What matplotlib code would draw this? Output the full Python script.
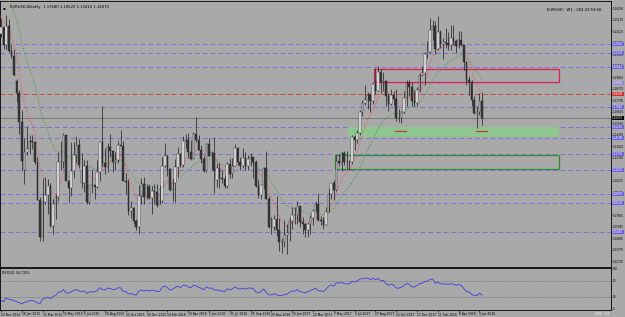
import numpy as np
import pandas as pd
import matplotlib
matplotlib.use("Agg")
import matplotlib.pyplot as plt
from matplotlib.patches import Rectangle
import matplotlib.transforms as mtransforms

# EURUSD weekly, 20 bars before the visible window (only used for MA / RSI warm-up)
pre_close = [1.3605, 1.3524, 1.3430, 1.3427, 1.3412, 1.3398, 1.3240, 1.3130, 1.2951, 1.2962,
             1.2830, 1.2685, 1.2519, 1.2627, 1.2761, 1.2669, 1.2525, 1.2452, 1.2525, 1.2389]

# visible bars, week of 23 Nov 2014 .. week of 10 Jun 2018
opens = [1.2390, 1.2452, 1.2288, 1.2465, 1.2226, 1.2185, 1.1950, 1.1840, 1.1566, 1.1120,
         1.1291, 1.1315, 1.1387, 1.1380, 1.1197, 1.0843, 1.0496, 1.0823, 1.0890, 1.0970,
         1.0600, 1.0808, 1.0872, 1.1198, 1.1200, 1.1448, 1.1014, 1.0955, 1.1113, 1.1263,
         1.1350, 1.1000, 1.1000, 1.1162, 1.0827, 1.0982, 1.0984, 1.0967, 1.1105, 1.1385,
         1.1185, 1.1150, 1.1337, 1.1297, 1.1195, 1.1211, 1.1358, 1.1348, 1.1017, 1.1005,
         1.0740, 1.0770, 1.0647, 1.0593, 1.0882, 1.0989, 1.0866, 1.0963, 1.0862, 1.0922,
         1.0915, 1.0797, 1.0831, 1.1157, 1.1255, 1.1130, 1.0932, 1.1000, 1.1153, 1.1270,
         1.1166, 1.1390, 1.1396, 1.1285, 1.1225, 1.1455, 1.1404, 1.1309, 1.1225, 1.1115,
         1.1365, 1.1250, 1.1277, 1.1030, 1.1137, 1.1051, 1.1037, 1.0976, 1.1175, 1.1086,
         1.1160, 1.1325, 1.1198, 1.1155, 1.1233, 1.1154, 1.1226, 1.1241, 1.1200, 1.0972,
         1.0884, 1.0985, 1.1140, 1.0855, 1.0589, 1.0587, 1.0663, 1.0562, 1.0450, 1.0454,
         1.0517, 1.0530, 1.0643, 1.0703, 1.0698, 1.0783, 1.0641, 1.0617, 1.0560, 1.0620,
         1.0672, 1.0740, 1.0800, 1.0652, 1.0643, 1.0613, 1.0728, 1.0896, 1.0998, 1.0933,
         1.1206, 1.1185, 1.1282, 1.1196, 1.1198, 1.1196, 1.1426, 1.1401, 1.1470, 1.1665,
         1.1750, 1.1774, 1.1822, 1.1760, 1.1924, 1.1860, 1.2035, 1.1941, 1.1950, 1.1815,
         1.1732, 1.1822, 1.1782, 1.1609, 1.1609, 1.1664, 1.1790, 1.1932, 1.1895, 1.1763,
         1.1749, 1.1862, 1.2005, 1.2029, 1.2198, 1.2221, 1.2425, 1.2459, 1.2252, 1.2408,
         1.2296, 1.2317, 1.2307, 1.2289, 1.2350, 1.2323, 1.2280, 1.2330, 1.2288, 1.2130,
         1.1960, 1.1942, 1.1772, 1.1652, 1.1659, 1.1768]
highs = [1.2530, 1.2456, 1.2570, 1.2530, 1.2285, 1.2245, 1.1970, 1.1870, 1.1680, 1.1420,
         1.1535, 1.1450, 1.1448, 1.1390, 1.1243, 1.0870, 1.1043, 1.1052, 1.1035, 1.1000,
         1.0850, 1.0900, 1.1290, 1.1390, 1.1466, 1.1450, 1.1030, 1.1380, 1.1386, 1.1436,
         1.1410, 1.1280, 1.1215, 1.1215, 1.0985, 1.1130, 1.0990, 1.1215, 1.1390, 1.1715,
         1.1330, 1.1370, 1.1460, 1.1300, 1.1285, 1.1390, 1.1495, 1.1390, 1.1095, 1.1040,
         1.0830, 1.0780, 1.0660, 1.0980, 1.1045, 1.1060, 1.0990, 1.0995, 1.0970, 1.0990,
         1.0990, 1.0985, 1.1240, 1.1375, 1.1260, 1.1135, 1.1045, 1.1220, 1.1340, 1.1275,
         1.1440, 1.1455, 1.1465, 1.1400, 1.1475, 1.1615, 1.1445, 1.1350, 1.1250, 1.1375,
         1.1415, 1.1300, 1.1425, 1.1185, 1.1185, 1.1120, 1.1065, 1.1200, 1.1235, 1.1235,
         1.1365, 1.1340, 1.1240, 1.1330, 1.1285, 1.1260, 1.1280, 1.1245, 1.1210, 1.1040,
         1.0940, 1.1145, 1.1300, 1.0880, 1.0685, 1.0700, 1.0875, 1.0670, 1.0490, 1.0655,
         1.0615, 1.0685, 1.0775, 1.0775, 1.0830, 1.0785, 1.0680, 1.0630, 1.0630, 1.0700,
         1.0760, 1.0830, 1.0905, 1.0690, 1.0680, 1.0780, 1.0950, 1.0995, 1.1025, 1.1265,
         1.1270, 1.1285, 1.1295, 1.1295, 1.1210, 1.1445, 1.1445, 1.1490, 1.1680, 1.1775,
         1.1910, 1.1845, 1.1840, 1.1940, 1.2070, 1.2090, 1.2060, 1.2035, 1.1960, 1.1835,
         1.1880, 1.1860, 1.1880, 1.1690, 1.1675, 1.1860, 1.1960, 1.1960, 1.1940, 1.1865,
         1.1890, 1.2025, 1.2090, 1.2220, 1.2325, 1.2537, 1.2520, 1.2510, 1.2555, 1.2425,
         1.2350, 1.2445, 1.2410, 1.2475, 1.2475, 1.2345, 1.2415, 1.2415, 1.2290, 1.2140,
         1.1995, 1.1960, 1.1810, 1.1720, 1.1840, 1.1852]
lows = [1.2360, 1.2246, 1.2245, 1.2220, 1.2165, 1.2000, 1.1754, 1.1460, 1.1115, 1.0987,
        1.1260, 1.1270, 1.1315, 1.1176, 1.0840, 1.0462, 1.0460, 1.0800, 1.0712, 1.0590,
        1.0520, 1.0660, 1.0830, 1.1125, 1.1135, 1.1060, 1.0820, 1.0880, 1.1050, 1.1185,
        1.1135, 1.0955, 1.0915, 1.0808, 1.0808, 1.0910, 1.0850, 1.0950, 1.1015, 1.1160,
        1.1085, 1.1105, 1.1240, 1.1105, 1.1120, 1.1185, 1.1345, 1.1015, 1.0895, 1.0705,
        1.0675, 1.0620, 1.0565, 1.0520, 1.0800, 1.0805, 1.0850, 1.0850, 1.0710, 1.0805,
        1.0778, 1.0800, 1.0810, 1.1150, 1.1065, 1.0925, 1.0830, 1.0820, 1.1055, 1.1145,
        1.1145, 1.1330, 1.1235, 1.1215, 1.1220, 1.1385, 1.1310, 1.1185, 1.1100, 1.1100,
        1.1250, 1.1130, 1.0910, 1.0960, 1.0950, 1.1000, 1.0950, 1.0950, 1.1045, 1.1045,
        1.1160, 1.1180, 1.1125, 1.1140, 1.1120, 1.1125, 1.1160, 1.1050, 1.0965, 1.0860,
        1.0850, 1.0940, 1.0850, 1.0585, 1.0520, 1.0560, 1.0505, 1.0365, 1.0350, 1.0400,
        1.0340, 1.0455, 1.0575, 1.0620, 1.0620, 1.0590, 1.0525, 1.0495, 1.0495, 1.0525,
        1.0605, 1.0735, 1.0650, 1.0605, 1.0570, 1.0605, 1.0725, 1.0850, 1.0840, 1.0925,
        1.1160, 1.1110, 1.1170, 1.1130, 1.1120, 1.1180, 1.1310, 1.1370, 1.1450, 1.1620,
        1.1730, 1.1690, 1.1660, 1.1740, 1.1825, 1.1855, 1.1840, 1.1860, 1.1715, 1.1670,
        1.1730, 1.1730, 1.1575, 1.1570, 1.1555, 1.1650, 1.1715, 1.1815, 1.1715, 1.1715,
        1.1715, 1.1845, 1.2000, 1.1915, 1.2165, 1.2215, 1.2335, 1.2205, 1.2235, 1.2260,
        1.2155, 1.2255, 1.2240, 1.2240, 1.2290, 1.2215, 1.2255, 1.2280, 1.2055, 1.1910,
        1.1820, 1.1715, 1.1645, 1.1510, 1.1630, 1.1541]
closes = [1.2452, 1.2288, 1.2465, 1.2226, 1.2185, 1.2002, 1.1843, 1.1566, 1.1204, 1.1291,
          1.1315, 1.1387, 1.1380, 1.1197, 1.0843, 1.0496, 1.0823, 1.0890, 1.0970, 1.0600,
          1.0808, 1.0872, 1.1198, 1.1200, 1.1448, 1.1014, 1.0955, 1.1113, 1.1263, 1.1350,
          1.1165, 1.1106, 1.1162, 1.0827, 1.0982, 1.0984, 1.0967, 1.1105, 1.1385, 1.1185,
          1.1150, 1.1337, 1.1297, 1.1195, 1.1211, 1.1358, 1.1348, 1.1017, 1.1005, 1.0740,
          1.0770, 1.0647, 1.0593, 1.0882, 1.0989, 1.0866, 1.0963, 1.0862, 1.0922, 1.0915,
          1.0797, 1.0831, 1.1157, 1.1255, 1.1130, 1.0932, 1.1000, 1.1153, 1.1270, 1.1166,
          1.1390, 1.1396, 1.1285, 1.1225, 1.1455, 1.1404, 1.1309, 1.1225, 1.1115, 1.1365,
          1.1250, 1.1277, 1.1116, 1.1137, 1.1051, 1.1037, 1.0976, 1.1175, 1.1086, 1.1160,
          1.1325, 1.1198, 1.1155, 1.1233, 1.1154, 1.1226, 1.1241, 1.1200, 1.0972, 1.0884,
          1.0985, 1.1140, 1.0855, 1.0589, 1.0587, 1.0663, 1.0562, 1.0450, 1.0454, 1.0517,
          1.0530, 1.0643, 1.0703, 1.0698, 1.0783, 1.0641, 1.0617, 1.0560, 1.0620, 1.0672,
          1.0740, 1.0800, 1.0652, 1.0643, 1.0613, 1.0728, 1.0896, 1.0998, 1.0933, 1.1206,
          1.1185, 1.1282, 1.1196, 1.1198, 1.1196, 1.1426, 1.1401, 1.1470, 1.1665, 1.1750,
          1.1774, 1.1822, 1.1760, 1.1924, 1.1860, 1.2035, 1.1941, 1.1950, 1.1815, 1.1732,
          1.1822, 1.1782, 1.1609, 1.1609, 1.1664, 1.1790, 1.1932, 1.1895, 1.1763, 1.1749,
          1.1862, 1.2005, 1.2029, 1.2198, 1.2221, 1.2425, 1.2459, 1.2252, 1.2408, 1.2296,
          1.2317, 1.2307, 1.2289, 1.2350, 1.2323, 1.2280, 1.2330, 1.2288, 1.2130, 1.1960,
          1.1942, 1.1772, 1.1652, 1.1659, 1.1768, 1.1607]

# drawn objects
blue_levels = [1.2295, 1.2211, 1.2081, 1.1708, 1.1521, 1.1419, 1.1270, 1.1121, 1.0897, 1.0813, 1.0543]
grey_level = 1.1931
red_level = 1.1829
red_box = (143.5, 1.1941, 214.6, 1.2062)
green_zone = (133.5, 1.1428, 214.6, 1.1521)
green_box = (128.5, 1.1130, 214.6, 1.1260)
low_marks = [(151.5, 155.8, 1.1486), (182.7, 186.9, 1.1486)]

BG = "#a9a9a9"
FS = 2.4   # general small text
AFS = 2.0  # price axis labels (narrow strip on the right)
n = len(closes)
x = np.arange(n)

all_close = pd.Series(pre_close + closes)
xa = np.arange(-len(pre_close), n)
ma_fast = all_close.ewm(span=8, adjust=False).mean()
ma_slow = all_close.ewm(span=20, adjust=False).mean()
diff = all_close.diff()
up = diff.clip(lower=0).ewm(alpha=1 / 14, adjust=False).mean()
dn = (-diff.clip(upper=0)).ewm(alpha=1 / 14, adjust=False).mean()
rsi = 100 - 100 / (1 + up / dn)

W, H = 625, 317
fig = plt.figure(figsize=(W / 100, H / 100), dpi=100)
fig.patch.set_facecolor(BG)
ax = fig.add_axes([0, (H - 267) / H, 611 / W, 266 / H])
ax.set_facecolor(BG)
ax.set_xlim(-0.4, 234.6)
ax.set_ylim(1.0217, 1.2696)

# levels
for p in blue_levels:
    ax.axhline(p, color="#7a74dc", lw=0.7, ls=(0, (5, 3)), zorder=1)
ax.axhline(grey_level, color="#9c9cc8", lw=0.7, ls=(0, (5, 3)), zorder=1)
ax.axhline(red_level, color="#d04848", lw=0.7, ls=(0, (5, 3)), zorder=1)
ax.axhline(closes[-1], color="#6e6e6e", lw=0.6, zorder=1)

# zones
x0, y0, x1, y1 = green_zone
ax.add_patch(Rectangle((x0, y0), x1 - x0, y1 - y0, facecolor="#8fc68f", edgecolor="none", zorder=2))
x0, y0, x1, y1 = green_box
ax.add_patch(Rectangle((x0, y0), x1 - x0, y1 - y0, facecolor="none", edgecolor="#2f8f2f", lw=0.9, zorder=2))
x0, y0, x1, y1 = red_box
ax.add_patch(Rectangle((x0, y0), x1 - x0, y1 - y0, facecolor="none", edgecolor="#dc1e50", lw=0.9, zorder=2))
for a, b, p in low_marks:
    ax.plot([a, b], [p, p], color="#b5402e", lw=0.9, zorder=3)

# moving averages
ax.plot(xa, ma_slow, color="#3f9a3f", lw=0.7, ls=":", zorder=3)
ax.plot(xa, ma_fast, color="#f05050", lw=0.7, ls=":", zorder=3)

# candles
o = np.array(opens)
c = np.array(closes)
bull = c >= o
ax.vlines(x, lows, highs, color="#1c1c1c", lw=0.5, zorder=4)
ax.bar(x, np.abs(c - o), bottom=np.minimum(o, c), width=0.62,
       color=np.where(bull, "white", "#3a3a3a"), edgecolor="#1c1c1c", lw=0.3, zorder=5)

# price axis
ticks = np.arange(1.02725, 1.2680, 0.01070)
ax.yaxis.tick_right()
ax.set_yticks(ticks)
ax.set_yticklabels([f"{t:.5f}" for t in ticks])
ax.tick_params(axis="y", labelsize=AFS, length=1.0, width=0.4, pad=0.5)
ax.set_xticks([])
for s in ax.spines.values():
    s.set_color("black")
    s.set_linewidth(0.6)

tr = mtransforms.blended_transform_factory(ax.transAxes, ax.transData)
tags = [(p, "#6c62e0") for p in blue_levels] + [(grey_level, "#8c88d8"), (red_level, "#d03030"),
                                                 (closes[-1], "black")]
for p, fc in tags:
    ax.text(1.002, p, f"{p:.5f}", transform=tr, fontsize=AFS, color="white", va="center", ha="left",
            bbox=dict(boxstyle="square,pad=0.12", fc=fc, ec="none"), zorder=6)

ax.text(0.016, 0.985, f"EURUSD,Weekly  {opens[-1]:.5f} {highs[-1]:.5f} {lows[-1]:.5f} {closes[-1]:.5f}",
        transform=ax.transAxes, fontsize=FS + 0.3, va="top", ha="left")
ax.text(0.005, 0.983, "\u25aa", transform=ax.transAxes, fontsize=3, va="top", ha="left")
ax.text(0.985, 0.975, "EURUSD : W1 : 004:23:59:56", transform=ax.transAxes, fontsize=FS + 0.3,
        va="top", ha="right")

# RSI panel
ax2 = fig.add_axes([0, (H - 310) / H, 611 / W, 42 / H])
ax2.set_facecolor(BG)
ax2.set_xlim(-0.4, 234.6)
ax2.set_ylim(-2.5, 102.5)
ax2.plot(xa, rsi, color="#3e3ee0", lw=0.6)
for lv in (70, 30):
    ax2.axhline(lv, color="#555555", lw=0.5, ls=":")
ax2.yaxis.tick_right()
ax2.set_yticks([100, 70, 30, 0])
ax2.set_yticklabels(["100", "70", "30", "0"])
ax2.tick_params(axis="y", labelsize=AFS, length=1.0, width=0.4, pad=0.5)
dates = pd.date_range("2014-11-23", periods=24, freq="56D")
ax2.set_xticks(np.arange(0, 24 * 8, 8))
ax2.set_xticklabels([f"{d.day} {d:%b %Y}" for d in dates], ha="left")
ax2.tick_params(axis="x", labelsize=FS - 0.2, length=1.2, width=0.4, pad=0.6)
for s in ax2.spines.values():
    s.set_color("black")
    s.set_linewidth(0.6)
ax2.text(0.004, 0.93, f"RSI(14) {rsi.iloc[-1]:.4f}", transform=ax2.transAxes, fontsize=FS,
         va="top", ha="left")
fig.text(0.975, 0.003, "1858 : 115", fontsize=AFS, color="white", ha="right", va="bottom")

fig.savefig("out.png", dpi=100, facecolor=BG)
